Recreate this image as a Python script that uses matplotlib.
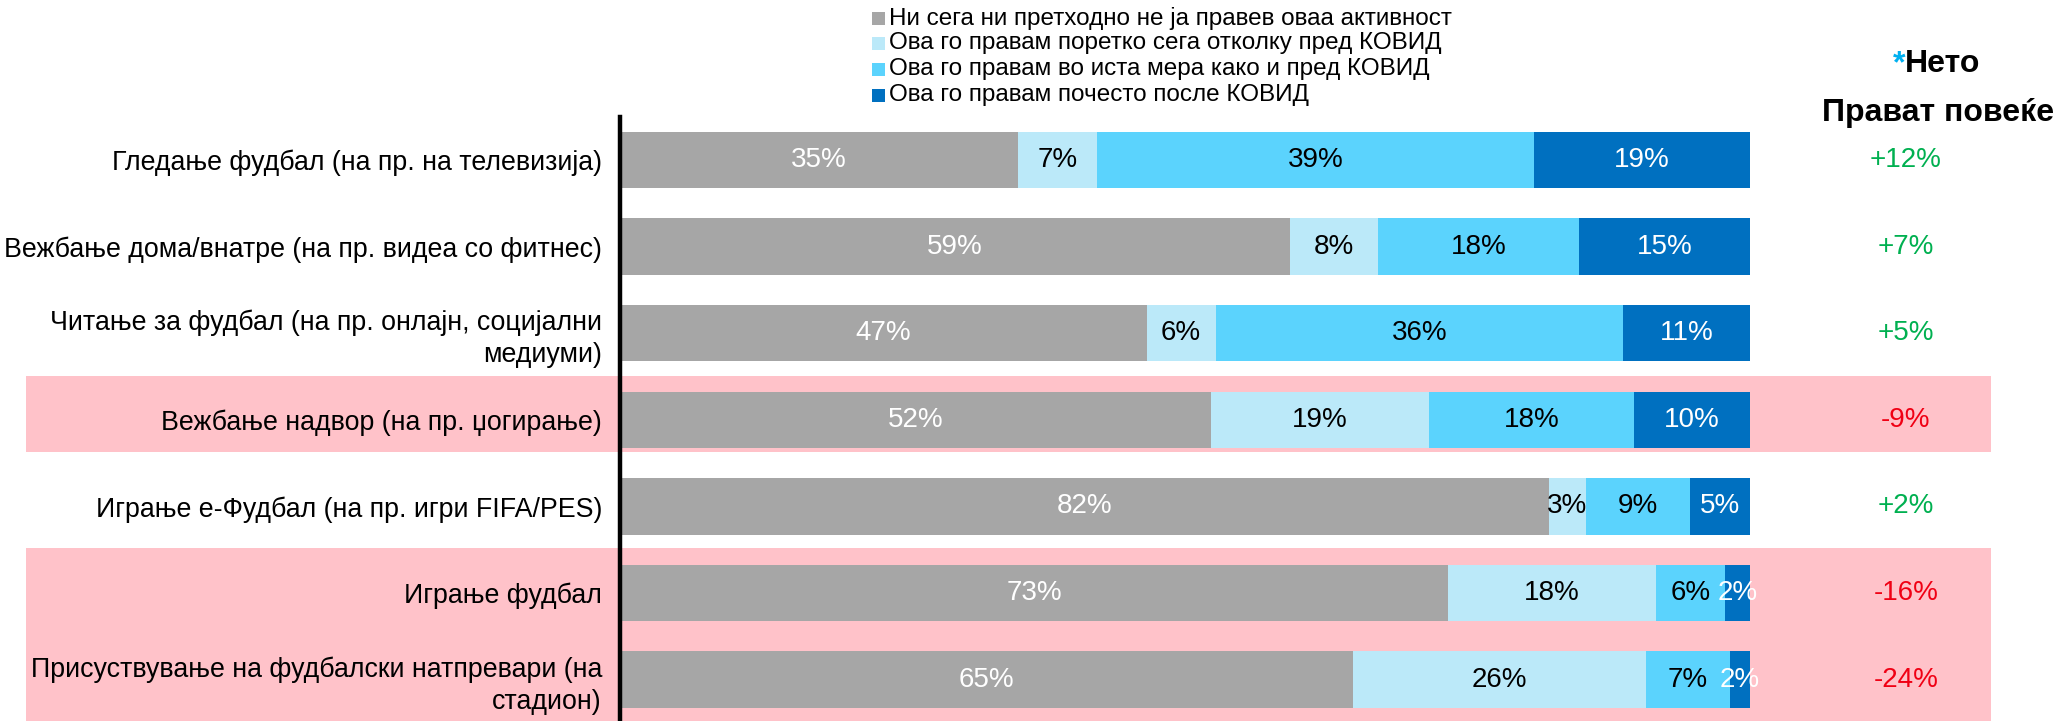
import matplotlib
matplotlib.use('Agg')
import matplotlib.pyplot as plt
from matplotlib.patches import Rectangle

plt.rcParams['font.family'] = ['Liberation Sans', 'DejaVu Sans']

# data
categories = ['Гледање фудбал (на пр. на телевизија)',
              'Вежбање дома/внатре (на пр. видеа со фитнес)',
              'Читање за фудбал (на пр. онлајн, социјални\nмедиуми)',
              'Вежбање надвор (на пр. џогирање)',
              'Играње е-Фудбал (на пр. игри FIFA/PES)',
              'Играње фудбал',
              'Присуствување на фудбалски натпревари (на\nстадион)']
never = [35.2, 59.3, 46.6, 52.3, 82.2, 73.3, 64.9]
less = [7.0, 7.8, 6.1, 19.3, 3.3, 18.4, 25.9]
same = [38.7, 17.8, 36.1, 18.1, 9.2, 6.1, 7.4]
more = [19.1, 15.1, 11.2, 10.3, 5.3, 2.2, 1.8]
net = ['+12%', '+7%', '+5%', '-9%', '+2%', '-16%', '-24%']

series_names = ['Ни сега ни претходно не ја правев оваа активност',
                'Ова го правам поретко сега отколку пред КОВИД',
                'Ова го правам во иста мера како и пред КОВИД',
                'Ова го правам почесто после КОВИД']
colors = ['#A6A6A6', '#BBE9F9', '#5BD3FD', '#0070C0']
label_colors = ['white', 'black', 'black', 'white']

W, H = 2054, 721
fig = plt.figure(figsize=(W / 100, H / 100), dpi=100)

# axes: x 0..100 -> px 620..1750, rows centred at 160 + 86.6*i
x0, x1 = 620, 1750
top_px = 117
pitch = 86.6
ax = fig.add_axes([x0 / W, 0, (x1 - x0) / W, (H - top_px) / H])
ax.set_xlim(0, 100)
ax.set_ylim((H - 160) / pitch, (top_px - 160) / pitch)
ax.patch.set_visible(False)

pxu = (x1 - x0) / 100.0  # px per data unit

# pink highlight bands
bands = [((376 - 160) / pitch, (452 - 160) / pitch),
         ((548 - 160) / pitch, (H + 5 - 160) / pitch)]
for b0, b1 in bands:
    ax.add_patch(Rectangle(((26 - x0) / pxu, b0), (1991 - 26) / pxu, b1 - b0,
                           facecolor='#FFC2C9', edgecolor='none',
                           zorder=0, clip_on=False))

rows = list(range(len(categories)))
left = [0.0] * len(rows)
for vals, c, lc in zip([never, less, same, more], colors, label_colors):
    ax.barh(rows, vals, left=left, height=0.65, color=c, zorder=2)
    for i, v in enumerate(vals):
        ax.text(left[i] + v / 2, i, '%.0f%%' % v, ha='center', va='center',
                fontsize=20, color=lc, zorder=3)
    left = [l + v for l, v in zip(left, vals)]

# net column
for i, t in enumerate(net):
    col = '#00B050' if t.startswith('+') else '#F00014'
    ax.text((1906 - x0) / pxu, i, t, ha='center', va='center', fontsize=20,
            color=col, clip_on=False)

ax.set_yticks(rows)
ax.set_yticklabels(categories, fontsize=19.3, linespacing=1.3)
ax.tick_params(axis='y', length=0, pad=13)
ax.tick_params(axis='x', bottom=False, labelbottom=False)
for s in ['top', 'right', 'bottom']:
    ax.spines[s].set_visible(False)
ax.spines['left'].set_linewidth(3.2)
ax.spines['left'].set_zorder(5)

# legend drawn by hand, four stacked rows
leg_y = [18, 43, 69, 95]
for name, c, y in zip(series_names, colors, leg_y):
    fig.patches.append(Rectangle((872 / W, 1 - (y + 7) / H), 13 / W, 13 / H,
                                 facecolor=c, edgecolor='none',
                                 transform=fig.transFigure))
    fig.text(889 / W, 1 - y / H, name, ha='left', va='center', fontsize=17.5)

# header of the net column
fig.text(1905 / W, 1 - 64 / H, '*', ha='right', va='center', fontsize=23,
         fontweight='bold', color='#00B0F0')
fig.text(1905 / W, 1 - 64 / H, 'Нето', ha='left', va='center', fontsize=23,
         fontweight='bold')
fig.text(1938 / W, 1 - 113 / H, 'Прават повеќе', ha='center', va='center',
         fontsize=23, fontweight='bold')

fig.savefig('out.png', dpi=100)
